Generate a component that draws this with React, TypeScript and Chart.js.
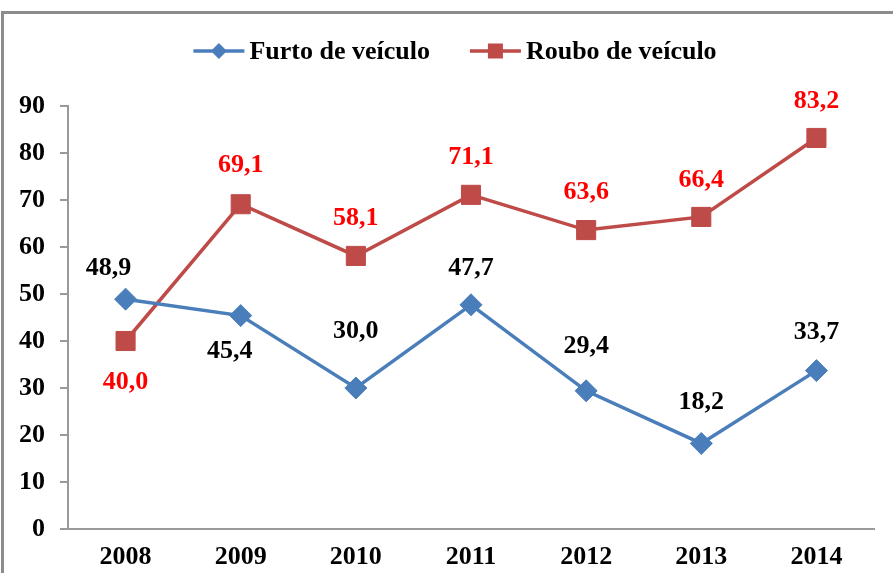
import React, { useEffect, useRef } from "react";
import { Chart, registerables } from "chart.js";

Chart.register(...registerables);

const years = ["2008", "2009", "2010", "2011", "2012", "2013", "2014"];
const furto = [48.9, 45.4, 30.0, 47.7, 29.4, 18.2, 33.7];
const roubo = [40.0, 69.1, 58.1, 71.1, 63.6, 66.4, 83.2];
const seriesNames = ["Furto de veículo", "Roubo de veículo"];
const yMin = 0;
const yMax = 90;
const yStep = 10;

// label placement (style)
const furtoLabelDy = [-31, 36, -57, -37, -45, -41, -38];
const furtoLabelDx = [-17, -11, 0, 0, 0, 0, 0];
const rouboLabelDy = [41, -39, -38, -38, -38, -37, -37];
const rouboLabelDx = [0, 0, 0, 0, 0, 0, 0];

const BLUE = "#4A7EBB";
const RED = "#BE4B48";
const AXIS = "#9a9a9a";
const FONT_FAMILY = "'Liberation Serif', 'Times New Roman', serif";
const FONT_SIZE = 26;

const fmt = (v: number) => v.toFixed(1).replace(".", ",");

const framePlugin = {
  id: "frame",
  beforeDraw(chart: any) {
    const { ctx, width, height } = chart;
    ctx.save();
    ctx.fillStyle = "#ffffff";
    ctx.fillRect(0, 0, width, height);
    ctx.strokeStyle = "#8c8c8c";
    ctx.lineWidth = 3;
    ctx.beginPath();
    ctx.moveTo(2.5, height);
    ctx.lineTo(2.5, 12.5);
    ctx.lineTo(width, 12.5);
    ctx.stroke();
    ctx.restore();
  },
};

const labelsPlugin = {
  id: "valueLabels",
  afterDatasetsDraw(chart: any) {
    const { ctx } = chart;
    const cfgs = [
      { dy: furtoLabelDy, dx: furtoLabelDx, color: "#000000" },
      { dy: rouboLabelDy, dx: rouboLabelDx, color: "#FF0000" },
    ];
    ctx.save();
    ctx.font = `bold ${FONT_SIZE}px ${FONT_FAMILY}`;
    ctx.textAlign = "center";
    ctx.textBaseline = "middle";
    chart.data.datasets.forEach((ds: any, di: number) => {
      const meta = chart.getDatasetMeta(di);
      const c = cfgs[di];
      ctx.fillStyle = c.color;
      meta.data.forEach((pt: any, i: number) => {
        ctx.fillText(fmt(ds.data[i]), pt.x + c.dx[i], pt.y + c.dy[i]);
      });
    });
    ctx.restore();
  },
};

const legendPlugin = {
  id: "customLegend",
  afterDraw(chart: any) {
    const { ctx } = chart;
    ctx.save();
    ctx.font = `bold ${FONT_SIZE}px ${FONT_FAMILY}`;
    ctx.textBaseline = "middle";
    ctx.textAlign = "left";
    const y = 51;
    const sample = 51;
    const gapText = 5;
    const gapItems = 40;
    const w0 = ctx.measureText(seriesNames[0]).width;
    const w1 = ctx.measureText(seriesNames[1]).width;
    const total = sample + gapText + w0 + gapItems + sample + gapText + w1;
    let x = 455 - total / 2;
    const items = [
      { name: seriesNames[0], color: BLUE, shape: "diamond", w: w0 },
      { name: seriesNames[1], color: RED, shape: "square", w: w1 },
    ];
    items.forEach((it) => {
      ctx.strokeStyle = it.color;
      ctx.lineWidth = 3.5;
      ctx.beginPath();
      ctx.moveTo(x, y);
      ctx.lineTo(x + sample, y);
      ctx.stroke();
      const cx = x + sample / 2;
      ctx.fillStyle = it.color;
      ctx.beginPath();
      if (it.shape === "diamond") {
        const r = 8;
        ctx.moveTo(cx, y - r);
        ctx.lineTo(cx + r, y);
        ctx.lineTo(cx, y + r);
        ctx.lineTo(cx - r, y);
        ctx.closePath();
      } else {
        const s = 7.5;
        ctx.rect(cx - s, y - s, 2 * s, 2 * s);
      }
      ctx.fill();
      ctx.fillStyle = "#000000";
      ctx.fillText(it.name, x + sample + gapText, y + 1);
      x += sample + gapText + it.w + gapItems;
    });
    ctx.restore();
  },
};

export default function App() {
  const ref = useRef<HTMLCanvasElement | null>(null);

  useEffect(() => {
    if (!ref.current) return;
    const font = { family: FONT_FAMILY, size: FONT_SIZE, weight: "bold" as const };
    const chart = new Chart(ref.current, {
      type: "line",
      data: {
        labels: years,
        datasets: [
          {
            label: seriesNames[0],
            data: furto,
            borderColor: BLUE,
            backgroundColor: BLUE,
            borderWidth: 3.5,
            pointStyle: "rectRot",
            pointRadius: 11,
            pointBorderWidth: 1,
            pointBackgroundColor: BLUE,
            pointBorderColor: BLUE,
            tension: 0,
            fill: false,
          },
          {
            label: seriesNames[1],
            data: roubo,
            borderColor: RED,
            backgroundColor: RED,
            borderWidth: 3.5,
            pointStyle: "rect",
            pointRadius: 13.5,
            pointBorderWidth: 1,
            pointBackgroundColor: RED,
            pointBorderColor: RED,
            tension: 0,
            fill: false,
          },
        ],
      },
      options: {
        responsive: false,
        animation: false,
        events: [],
        layout: { padding: { top: 106, right: 19, left: 0, bottom: 0 } },
        plugins: {
          legend: { display: false },
          tooltip: { enabled: false },
          title: { display: false },
        },
        scales: {
          x: {
            offset: true,
            grid: { display: false, drawTicks: false },
            border: { display: true, color: AXIS, width: 2 },
            ticks: { color: "#000000", font, padding: 13, maxRotation: 0 },
            afterFit: (s: any) => {
              s.height = 44;
            },
          },
          y: {
            min: yMin,
            max: yMax,
            ticks: { stepSize: yStep, color: "#000000", font, padding: 15 },
            grid: {
              drawOnChartArea: false,
              drawTicks: true,
              tickLength: 8,
              color: AXIS,
              lineWidth: 2,
            },
            border: { display: true, color: AXIS, width: 2 },
            afterFit: (s: any) => {
              s.width = 68;
            },
          },
        },
      },
      plugins: [framePlugin, labelsPlugin, legendPlugin],
    });
    return () => chart.destroy();
  }, []);

  return (
    <div style={{ position: "absolute", left: 0, top: 0, width: 893, height: 573 }}>
      <canvas ref={ref} width={893} height={573} style={{ display: "block" }} />
    </div>
  );
}
